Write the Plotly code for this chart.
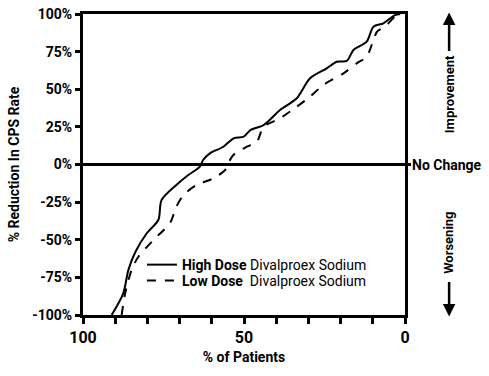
import plotly.graph_objects as go

# High dose (solid) — % of patients vs % reduction in CPS rate
high_x = [91.1, 87.5, 85.9, 83.7, 80.2, 76.6, 75.6, 71.0, 67.3, 63.7, 62.7, 60.6, 56.4, 53.2, 50.1,
          48.0, 43.9, 38.8, 33.6, 29.5, 24.3, 21.2, 18.1, 16.0, 11.9, 9.8, 6.7, 3.1, 1.5]
high_y = [-100, -85.6, -70, -58, -45.7, -36.9, -23.6, -13.6, -7, -1.4, 3, 7.4, 11.8, 17.4, 18.5,
          22.9, 26.2, 36.2, 44, 57.3, 63.9, 68.3, 68.8, 76.1, 81.6, 91.6, 93.8, 99.3, 100]

# Low dose (dashed)
low_x = [88.0, 86.9, 84.9, 82.8, 77.1, 73.0, 71.0, 68.8, 64.7, 59.5, 55.9, 55.4, 53.3, 49.1, 46.0,
         43.9, 38.8, 33.6, 29.5, 25.4, 19.1, 15.0, 11.9, 9.8, 8.7, 6.2, 3.1, 1.5]
low_y = [-100, -85.6, -70, -61.3, -48, -39, -28, -20.3, -13.6, -9.2, -3.7, -1.4, 6.3, 11.8, 15.1,
         25.1, 30.7, 38.4, 45, 52.8, 60.6, 67.2, 71.7, 82.7, 88.2, 91.6, 98.2, 100]

y_ticks = [-100, -75, -50, -25, 0, 25, 50, 75, 100]
y_labels = ["-100%", "-75%", "-50%", "-25%", "0%", "25%", "50%", "75%", "100%"]
x_ticks = [0, 10, 20, 30, 40, 50, 60, 70, 80, 90, 100]
x_labels = ["0", "", "", "", "", "50", "", "", "", "", "100"]

FONT = "Roboto, Liberation Sans, Arial, sans-serif"

fig = go.Figure()
fig.add_trace(go.Scatter(x=high_x, y=high_y, mode="lines", legend="legend",
                         line=dict(color="black", width=2, shape="spline", smoothing=0.8),
                         name="<b>High Dose</b> Divalproex Sodium"))
fig.add_trace(go.Scatter(x=low_x, y=low_y, mode="lines", legend="legend2",
                         line=dict(color="black", width=2, dash="dash", shape="spline", smoothing=0.8),
                         name="<b>Low Dose</b>  Divalproex Sodium"))
fig.add_trace(go.Scatter(x=[50], y=[0], yaxis="y2", mode="markers", marker=dict(opacity=0),
                         showlegend=False, hoverinfo="skip"))

leg = dict(xanchor="left", yanchor="middle", bgcolor="rgba(0,0,0,0)",
           font=dict(size=14, family=FONT), itemwidth=30)

fig.update_layout(
    width=489, height=376,
    margin=dict(l=83, r=84, t=14, b=61, autoexpand=False),
    paper_bgcolor="white", plot_bgcolor="white",
    font=dict(family=FONT, color="black"),
    showlegend=True,
    legend=dict(x=0.183, y=0.166, **leg),
    legend2=dict(x=0.183, y=0.113, **leg),
    xaxis=dict(range=[100, 0], tickvals=x_ticks, ticktext=[f"<b>{t}</b>" for t in x_labels],
               showline=True, linewidth=3, linecolor="black", mirror=True,
               ticks="outside", ticklen=6, tickwidth=3, tickcolor="black",
               showgrid=False, zeroline=False, automargin=False,
               tickfont=dict(size=16, family=FONT),
               title=dict(text="<b>% of Patients</b>", font=dict(size=14, family=FONT), standoff=6)),
    yaxis=dict(range=[-100, 100], tickvals=y_ticks, ticktext=[f"<b>{t}</b>" for t in y_labels],
               showline=True, linewidth=3, linecolor="black", mirror=True,
               ticks="outside", ticklen=5, tickwidth=3, tickcolor="black",
               showgrid=False, zeroline=True, zerolinewidth=3, zerolinecolor="black",
               automargin=False,
               tickfont=dict(size=14, family=FONT),
               title=dict(text="<b>% Reduction In CPS Rate</b>", font=dict(size=14, family=FONT), standoff=10)),
    yaxis2=dict(range=[-100, 100], overlaying="y", side="right", tickvals=[0],
                showticklabels=False, ticks="outside", ticklen=5, tickwidth=3, tickcolor="black",
                showgrid=False, zeroline=False, showline=False, automargin=False),
)

ann = [
    dict(text="<b>No Change</b>", x=1.016, y=0.5, xanchor="left", yanchor="middle", font=dict(size=14)),
    dict(text="<b>Improvement</b>", x=1.137, y=0.734, textangle=-90, xanchor="center", yanchor="middle", font=dict(size=13)),
    dict(text="<b>Worsening</b>", x=1.137, y=0.24, textangle=-90, xanchor="center", yanchor="middle", font=dict(size=13)),
]
for a in ann:
    a.update(xref="paper", yref="paper", showarrow=False)
    fig.add_annotation(**a)

fig.add_annotation(x=1.137, y=1.005, xref="paper", yref="paper", ax=0, ay=40, axref="pixel", ayref="pixel",
                   showarrow=True, arrowhead=2, arrowsize=1, arrowwidth=2.5, arrowcolor="black", text="")
fig.add_annotation(x=1.137, y=-0.005, xref="paper", yref="paper", ax=0, ay=-36, axref="pixel", ayref="pixel",
                   showarrow=True, arrowhead=2, arrowsize=1, arrowwidth=2.5, arrowcolor="black", text="")

fig.write_html("out.html", config={"displayModeBar": False},
               post_script="document.body.style.margin='0';")
